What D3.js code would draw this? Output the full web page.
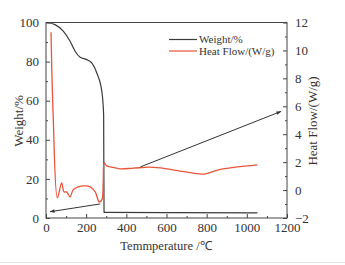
<!DOCTYPE html>
<html><head><meta charset="utf-8">
<script src="https://cdn.jsdelivr.net/npm/d3@7"></script>
<style>body{margin:0;background:#fff}svg{display:block}text{font-family:"Liberation Serif","Times New Roman",serif;fill:#333}</style>
</head><body><svg id="c" width="345" height="265"></svg>
<script>
const weightT = [3,45,87,120,145,170,203,228,253,278,287,289,290,600,1053];
const weightV = [100,98.9,95.5,90.4,85.3,82.2,81,79.3,74.2,64.8,52.7,3,2.9,2.8,2.6];
const heatT = [25,36,57,78,90,103,120,135,160,195,220,245,265,278,285,290,303,345,370,435,520,603,687,760,795,860,945,1053];
const heatV = [11.3,5.2,-0.56,0.51,-0.13,-0.13,-0.49,0.01,0.23,0.30,0.23,-0.13,-0.85,-0.7,0.58,1.95,1.73,1.59,1.52,1.57,1.64,1.52,1.32,1.16,1.16,1.45,1.64,1.80];
const xTicks = [0,200,400,600,800,1000,1200];
const yLeftTicks = [0,20,40,60,80,100];
const yRightTicks = [-2,0,2,4,6,8,10,12];
const legendLabels = ["Weight/%","Heat Flow/(W/g)"];
const arrowWeight = {from:[270,7.2], to:[20,3.2]};
const arrowHeat = {from:[470,1.66], to:[1170,5.63]};

const L=46,R=287,T=22.5,B=218;
const svg=d3.select("#c");
const x=d3.scaleLinear().domain([0,1200]).range([L,R]);
const yL=d3.scaleLinear().domain([0,100]).range([B,T]);
const yR=d3.scaleLinear().domain([-2,12]).range([B,T]);
const axisCol="#444";

svg.append("line").attr("x1",0).attr("x2",345).attr("y1",262.5).attr("y2",262.5).attr("stroke","#e4e4e4");

svg.append("rect").attr("x",L).attr("y",T).attr("width",R-L).attr("height",B-T).attr("fill","none").attr("stroke",axisCol).attr("stroke-width",1);

function ticks(g){g.selectAll("path").remove();g.selectAll("line").attr("stroke",axisCol);g.selectAll("text").style("font-size","13px").attr("fill","#333");}
svg.append("g").attr("transform",`translate(0,${B})`).call(d3.axisBottom(x).tickValues(d3.range(100,1200,200)).tickSize(-2).tickFormat("")).call(ticks);
svg.append("g").attr("transform",`translate(0,${B})`).call(d3.axisBottom(x).tickValues(xTicks).tickSize(-4).tickPadding(5).tickFormat(d3.format("d"))).call(ticks);
svg.append("g").attr("transform",`translate(${L},0)`).call(d3.axisLeft(yL).tickValues(d3.range(10,100,20)).tickSize(-2).tickFormat("")).call(ticks);
svg.append("g").attr("transform",`translate(${L},0)`).call(d3.axisLeft(yL).tickValues(yLeftTicks).tickSize(-4).tickPadding(7).tickFormat(d3.format("d"))).call(ticks);
svg.append("g").attr("transform",`translate(${R},0)`).call(d3.axisRight(yR).tickValues(d3.range(-1,12,2)).tickSize(-2).tickFormat("")).call(ticks);
svg.append("g").attr("transform",`translate(${R},0)`).call(d3.axisRight(yR).tickValues(yRightTicks).tickSize(-4).tickPadding(8).tickFormat(d3.format("d"))).call(ticks);

const wData=weightT.map((t,i)=>[t,weightV[i]]);
const hData=heatT.map((t,i)=>[t,heatV[i]]);
svg.append("path").attr("d",d3.line().x(d=>x(d[0])).y(d=>yL(d[1])).curve(d3.curveMonotoneX)(wData)).attr("fill","none").attr("stroke","#3a3a3a").attr("stroke-width",1.2);
svg.append("path").attr("d",d3.line().x(d=>x(d[0])).y(d=>yR(d[1])).curve(d3.curveCatmullRom.alpha(0.5))(hData)).attr("fill","none").attr("stroke","#e8553a").attr("stroke-width",1.3);

const defs=svg.append("defs");
defs.append("marker").attr("id","ah").attr("viewBox","0 0 10 10").attr("refX",9).attr("refY",5).attr("markerWidth",7).attr("markerHeight",5).attr("orient","auto")
 .append("path").attr("d","M0,1.5 L10,5 L0,8.5 Z").attr("fill","#333");
svg.append("line").attr("x1",x(arrowWeight.from[0])).attr("y1",yL(arrowWeight.from[1])).attr("x2",x(arrowWeight.to[0])).attr("y2",yL(arrowWeight.to[1])).attr("stroke","#333").attr("stroke-width",1).attr("marker-end","url(#ah)");
svg.append("line").attr("x1",x(arrowHeat.from[0])).attr("y1",yR(arrowHeat.from[1])).attr("x2",x(arrowHeat.to[0])).attr("y2",yR(arrowHeat.to[1])).attr("stroke","#333").attr("stroke-width",1).attr("marker-end","url(#ah)");

const lg=svg.append("g");
const cols=["#3a3a3a","#e8553a"];
legendLabels.forEach((s,i)=>{
  const yy=39.5+i*11.5;
  lg.append("line").attr("x1",169).attr("x2",197).attr("y1",yy).attr("y2",yy).attr("stroke",cols[i]).attr("stroke-width",1.2);
  lg.append("text").attr("x",199).attr("y",yy+3.8).style("font-size","11px").text(s);
});

svg.append("text").attr("transform","translate(23,121) rotate(-90)").attr("text-anchor","middle").style("font-size","13px").text("Weight/%");
svg.append("text").attr("transform","translate(317,121) rotate(-90)").attr("text-anchor","middle").style("font-size","13px").text("Heat Flow/(W/g)");
svg.append("text").attr("x",166).attr("y",250).attr("text-anchor","middle").style("font-size","12.5px").text("Temmperature /℃");
</script></body></html>
